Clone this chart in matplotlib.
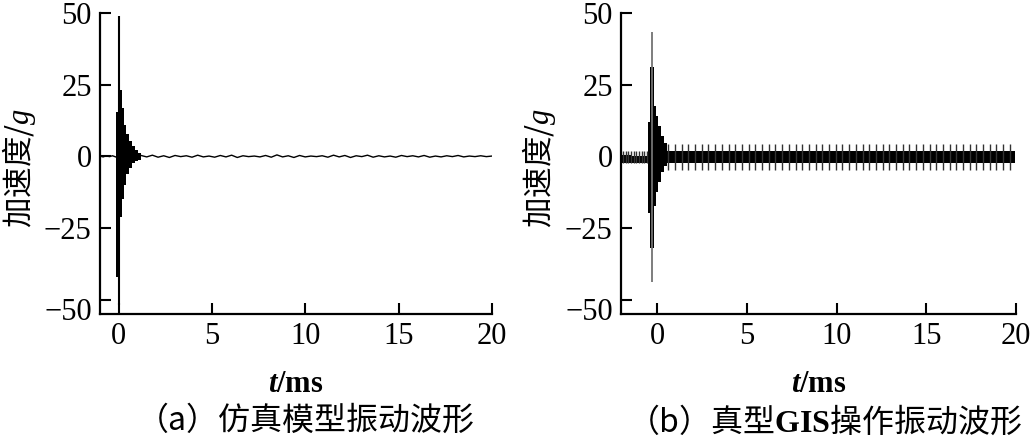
import numpy as np
import matplotlib.pyplot as plt

plt.rcParams['font.family'] = ['Liberation Serif', 'Noto Sans CJK SC']
plt.rcParams['mathtext.fontset'] = 'custom'
plt.rcParams['mathtext.rm'] = 'Liberation Serif'
plt.rcParams['mathtext.it'] = 'Liberation Serif:italic'
plt.rcParams['mathtext.bf'] = 'Liberation Serif:bold:italic'
plt.rcParams['mathtext.sf'] = 'Liberation Serif:bold'

# ---- data ----
x_ticks = [0, 5, 10, 15, 20]
y_ticks = [50, 25, 0, -25]

# (a) simulated model: decaying burst envelope (step), main spike, and residual ripple
a_env_t = [-0.16, -0.02, 0.05, 0.18, 0.29, 0.41, 0.55, 0.70, 0.86, 1.04, 1.21]
a_env_hi = [15.3, 23.0, 23.0, 17.0, 11.0, 7.7, 5.3, 3.5, 2.3, 1.2, 1.2]
a_env_lo = [-42.0, -21.0, -21.0, -15.0, -10.0, -6.3, -4.0, -2.4, -1.7, -1.2, -1.2]
a_spike_t = 0.02
a_spike_top = 49.0
a_spike_bot = -52.0
a_pre = [0.1, -0.2, 0.2, -0.1, 0.2, -0.2]
a_tail = [0.3, -0.2, 0.4, -0.3, 0.2, -0.4, 0.3, -0.1, 0.2, -0.3, 0.4, -0.2,
          0.1, -0.3, 0.3, -0.2, 0.4, -0.4, 0.2, -0.1, 0.1, -0.2, 0.3, -0.3,
          0.5, -0.2, 0.2, -0.4, 0.3, -0.2, 0.1, -0.1, 0.2, -0.3, 0.4, -0.2,
          0.3, -0.4, 0.2, -0.1, 0.4, -0.3, 0.2, -0.2, 0.1, -0.3, 0.3, -0.1,
          0.2, -0.2, 0.3, -0.3, 0.1, -0.2, 0.2, -0.1, 0.3, -0.2, 0.1, -0.1,
          0.2, -0.1, 0.1]

# (b) real GIS: background band, periodic spikes, burst envelope
b_band_t = [-2.0, -0.45, 0.6, 19.95]
b_band_hi = [0.2, 1.7, 1.7, 1.7]
b_band_lo = [-2.3, -2.3, -2.3, -2.3]
b_spk_pre_t = [-1.9, -1.75, -1.6, -1.45, -1.3, -1.15, -1.0, -0.85, -0.7, -0.55]
b_spk_pre_top, b_spk_pre_bot = 1.8, -2.3
b_spk_t = [0.63, 1.00, 1.38, 1.75, 2.12, 2.50, 2.87, 3.24, 3.61, 3.99, 4.36,
           4.73, 5.11, 5.48, 5.85, 6.23, 6.60, 6.97, 7.34, 7.72, 8.09, 8.46,
           8.84, 9.21, 9.58, 9.96, 10.33, 10.70, 11.07, 11.45, 11.82, 12.19,
           12.57, 12.94, 13.31, 13.69, 14.06, 14.43, 14.80, 15.18, 15.55,
           15.92, 16.30, 16.67, 17.04, 17.42, 17.79, 18.16, 18.53, 18.90,
           19.27, 19.65]
b_spk_top, b_spk_bot = 4.2, -4.6
b_env_t = [-0.48, -0.36, -0.17, -0.07, 0.07, 0.20, 0.39, 0.58]
b_env_hi = [12.0, 31.0, 17.5, 14.0, 10.6, 7.0, 4.8, 4.8]
b_env_lo = [-19.6, -32.0, -17.4, -12.6, -9.0, -5.6, -3.4, -3.4]
b_spike_t = -0.26
b_spike_top, b_spike_bot = 43.5, -44.0


def style(ax, xmin):
    ax.set_xlim(xmin, 20)
    ax.set_ylim(-55, 50)
    for s in ['top', 'right']:
        ax.spines[s].set_visible(False)
    for s in ['left', 'bottom']:
        ax.spines[s].set_linewidth(1.6)
    ax.set_xticks(x_ticks)
    ax.set_yticks(y_ticks + [-50])
    ax.set_yticklabels([str(v).replace('-', '\u2212') for v in y_ticks] + [''])
    ax.tick_params(direction='in', length=8, width=1.5, labelsize=22, pad=6)
    ax.annotate('\u221250', xy=(0, -50), xycoords=('axes fraction', 'data'),
                xytext=(-6, -9), textcoords='offset points',
                ha='right', va='center', fontsize=22)
    ax.set_xlabel(r'$\mathbf{t}$/ms', fontsize=22, fontweight='bold', va='center')
    ax.xaxis.set_label_coords(0.5, -0.233)
    ax.set_ylabel('加速度/$g$', fontsize=22, family='Noto Sans CJK SC', va='center')
    ax.yaxis.set_label_coords(-0.207, 0.485)


fig = plt.figure(figsize=(10.33, 4.41), dpi=100)
ax_a = fig.add_axes([0.0968, 0.288, 0.3795, 0.6825])
ax_b = fig.add_axes([0.6012, 0.288, 0.3824, 0.6825])

# panel (a)
ax_a.fill_between(a_env_t, a_env_lo, a_env_hi, step='post', color='black', lw=0)
ax_a.vlines(a_spike_t, a_spike_bot, a_spike_top, color='black', lw=1.5)
ax_a.plot(np.linspace(-1.0, -0.16, len(a_pre)), a_pre, color='black', lw=1.0)
ax_a.plot(np.linspace(1.2, 20.0, len(a_tail)), a_tail, color='black', lw=1.0)
style(ax_a, -1)

# panel (b)
ax_b.fill_between(b_band_t, b_band_lo, b_band_hi, step='post', color='black', lw=0)
ax_b.vlines(b_spk_pre_t, b_spk_pre_bot, b_spk_pre_top, color='0.2', lw=1.0)
ax_b.vlines(b_spk_t, b_spk_bot, b_spk_top, color='0.2', lw=1.0)
ax_b.vlines(b_spike_t, b_spike_bot, b_spike_top, color='0.45', lw=1.3)
ax_b.fill_between(b_env_t, b_env_lo, b_env_hi, step='post', color='black', lw=0)
style(ax_b, -2)

fig.text(0.296, 0.045, '（a）仿真模型振动波形', family='Noto Sans CJK SC',
         fontsize=23, ha='center', va='center')
fig.text(0.798, 0.045, r'（b）真型$\mathsf{GIS}$操作振动波形', family='Noto Sans CJK SC',
         fontsize=23, ha='center', va='center')

fig.savefig('out.png', dpi=100)
